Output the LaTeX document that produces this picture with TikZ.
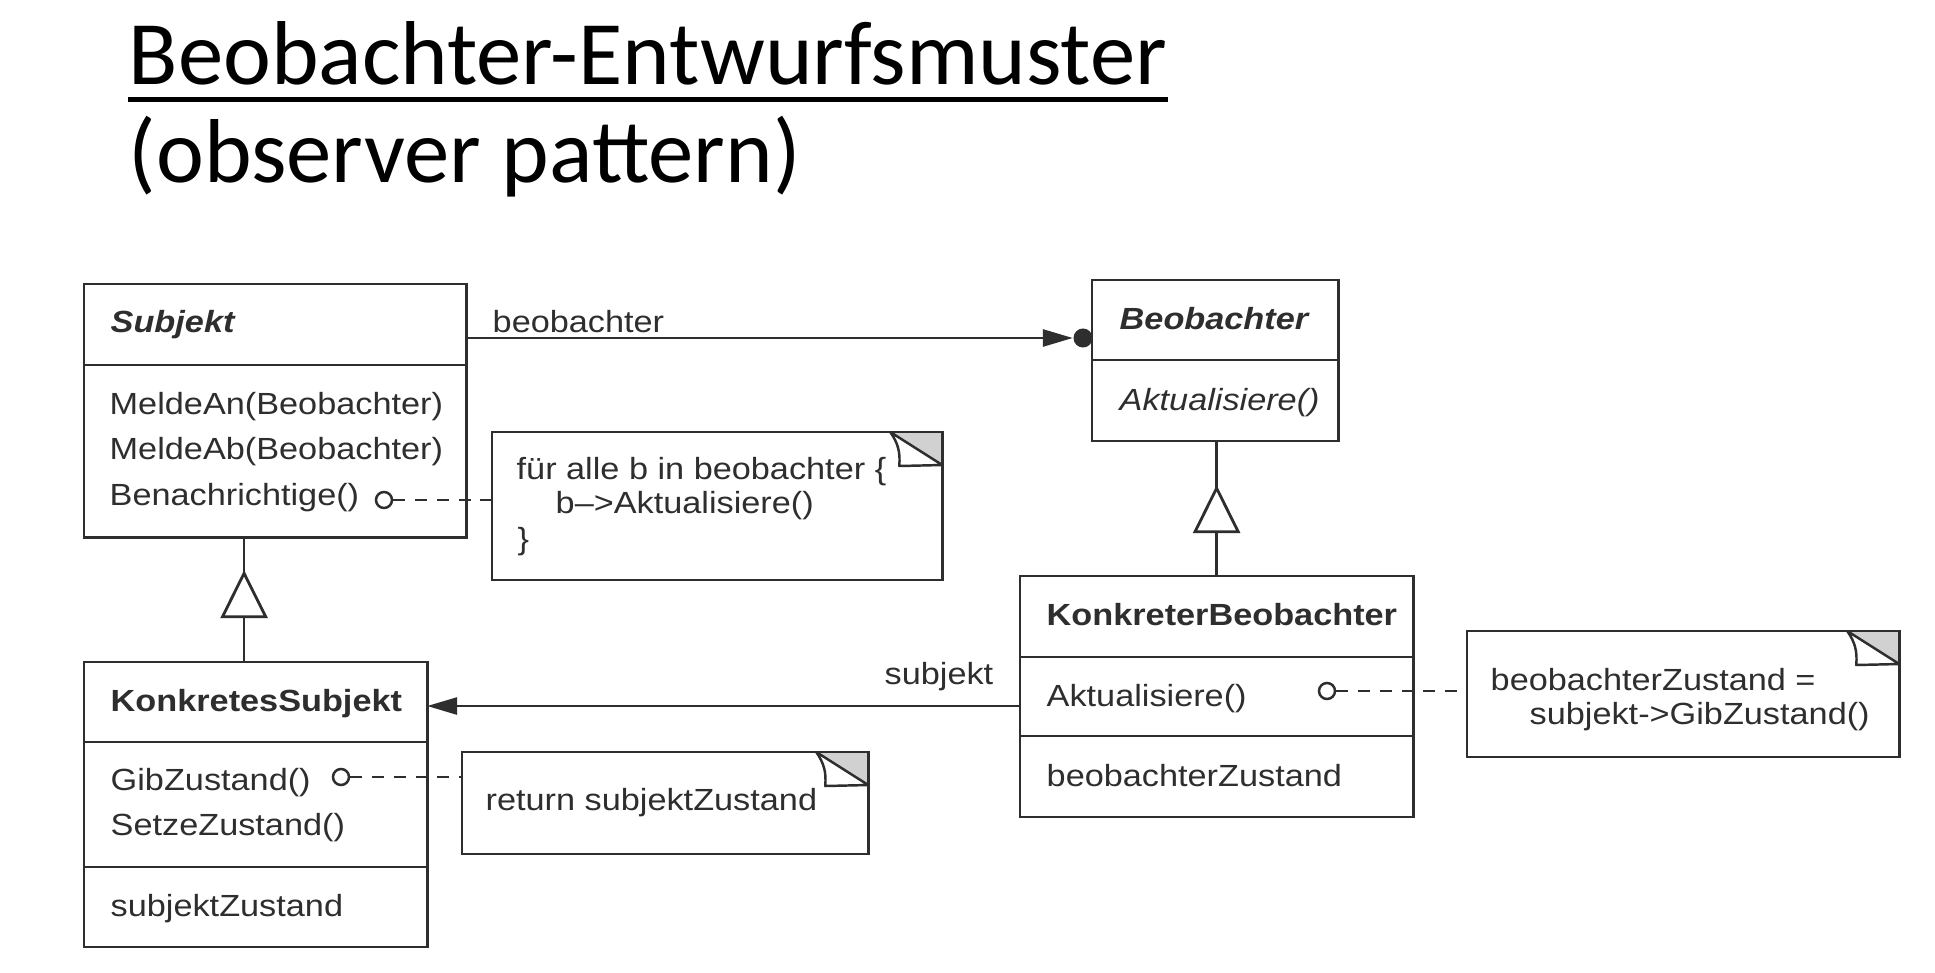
\documentclass[tikz,border=0pt]{standalone}
\usepackage{fontspec}
\setmainfont{Liberation Sans}
\newfontfamily\titlefont{Carlito}
\newfontfamily\umlfont[FakeStretch=1.12]{Liberation Sans}
\usetikzlibrary{arrows.meta, decorations.markings, positioning}
\definecolor{ink}{gray}{0.18}
\definecolor{earfill}{gray}{0.82}

\begin{document}
\begin{tikzpicture}[x=0.01cm, y=-0.01cm,
    box/.style={draw=ink, line width=0.8pt, anchor=north west, inner sep=0pt, outer sep=0pt, minimum width=#1},
    txt/.style={anchor=base west, inner sep=0pt, text=ink, font=\fontsize{8.7}{10}\umlfont},
    head/.style={anchor=base west, inner sep=0pt, font=\titlefont\fontsize{25.8}{30}\selectfont},
    knob/.style={circle, draw=ink, line width=0.7pt, minimum size=0.16cm, inner sep=0pt},
    ball/.style={circle, fill=ink, minimum size=0.19cm, inner sep=0pt},
    assoc/.style={draw=ink, line width=0.8pt, -{Triangle[length=0.3cm, width=0.17cm]}},
    dep/.style={draw=ink, line width=0.8pt, dash pattern=on 3.4pt off 2.8pt},
    inherit/.style={draw=ink, line width=0.8pt, postaction={decorate, decoration={markings,
      mark=at position #1 with {\arrow{Triangle[length=0.48cm, width=0.47cm, fill=white]}}}}}]

    \path[fill=white] (0,0) rectangle (1935,973);

    % title
    \node[head] (title) at (128,85) {Beobachter-Entwurfsmuster};
    \node[head] (subtitle) at (128,183) {(observer pattern)};
    \draw[line width=1.4pt] ([yshift=-0.145cm]title.base west) -- ([yshift=-0.145cm]title.base east);

    % Subjekt
    \node[box=3.82cm, minimum height=0.81cm] (subj-name) at (84,284) {};
    \node[box=3.82cm, minimum height=1.72cm] (subj-ops) at (84,365) {};
    \node[txt] (subj-t) at (110,333) {\textbf{\textit{Subjekt}}};
    \node[txt] (subj-o1) at (109,415) {MeldeAn(Beobachter)};
    \node[txt] (subj-o2) at (109,460) {MeldeAb(Beobachter)};
    \node[txt] (subj-o3) at (109,505) {Benachrichtige()};
    \node[knob] (subj-k) at (384,500) {};

    % Beobachter
    \node[box=2.46cm, minimum height=0.80cm] (beob-name) at (1092,280) {};
    \node[box=2.46cm, minimum height=0.81cm] (beob-ops) at (1092,360) {};
    \node[txt] (beob-t) at (1119,330) {\textbf{\textit{Beobachter}}};
    \node[txt] (beob-o1) at (1119,410) {\textit{Aktualisiere()}};

    % KonkretesSubjekt
    \node[box=3.43cm, minimum height=0.80cm] (ks-name) at (84,662) {};
    \node[box=3.43cm, minimum height=1.25cm] (ks-ops) at (84,742) {};
    \node[box=3.43cm, minimum height=0.80cm] (ks-attr) at (84,867) {};
    \node[txt] (ks-t) at (110,711) {\textbf{KonkretesSubjekt}};
    \node[txt] (ks-o1) at (110,790) {GibZustand()};
    \node[txt] (ks-o2) at (110,835) {SetzeZustand()};
    \node[txt] (ks-a1) at (110,916) {subjektZustand};
    \node[knob] (ks-k) at (341,777) {};

    % KonkreterBeobachter
    \node[box=3.93cm, minimum height=0.81cm] (kb-name) at (1020,576) {};
    \node[box=3.93cm, minimum height=0.79cm] (kb-ops) at (1020,657) {};
    \node[box=3.93cm, minimum height=0.81cm] (kb-attr) at (1020,736) {};
    \node[txt] (kb-t) at (1046,626) {\textbf{KonkreterBeobachter}};
    \node[txt] (kb-o1) at (1046,706) {Aktualisiere()};
    \node[txt] (kb-a1) at (1046,786) {beobachterZustand};
    \node[knob] (kb-k) at (1327,691) {};

    % notes with folded corner
    \node[box=4.50cm, minimum height=1.48cm] (note1) at (492,432) {};
    \node[box=4.06cm, minimum height=1.02cm] (note2) at (462,752) {};
    \node[box=4.32cm, minimum height=1.26cm] (note3) at (1467,631) {};
    \foreach \n in {note1, note2, note3} {
        \fill[earfill] ([xshift=-0.52cm]\n.north east) -- (\n.north east) -- ([yshift=-0.33cm]\n.north east) -- cycle;
        \draw[ink, line width=0.7pt, line join=round] ([xshift=-0.52cm]\n.north east) -- ([yshift=-0.33cm]\n.north east)
            -- ([xshift=-0.43cm, yshift=-0.34cm]\n.north east) to[bend right=20] ([xshift=-0.52cm]\n.north east);
        \draw[ink, line width=0.8pt] ([xshift=-0.52cm]\n.north east) -- (\n.north east) -- ([yshift=-0.33cm]\n.north east);
    }
    \node[txt] (note1-l1) at (516,480) {für alle b in beobachter \{};
    \node[txt] (note1-l2) at (555,514) {b–>Aktualisiere()};
    \node[txt] (note1-l3) at (517,549) {\}};
    \node[txt] (note2-l1) at (485,810) {return subjektZustand};
    \node[txt] (note3-l1) at (1490,690) {beobachterZustand =};
    \node[txt] (note3-l2) at (1529,725) {subjekt->GibZustand()};

    % associations
    \node[ball] (ball) at (1083,338) {};
    \draw[assoc] (ball -| subj-name.east) -- (ball.west);
    \node[txt] (lbl-beob) at (492,333) {beobachter};
    \coordinate (subj-end) at ([yshift=-0.095cm]kb-ops.west);
    \draw[assoc] (subj-end) -- (subj-end -| ks-name.east);
    \node[txt] (lbl-subj) at (884,685) {subjekt};

    % note links
    \draw[dep] (subj-k) -- (subj-k -| note1.west);
    \draw[dep] (ks-k) -- (ks-k -| note2.west);
    \draw[dep] (kb-k) -- (kb-k -| note3.west);

    % inheritance
    \draw[inherit=-0.33cm] ([xshift=-0.115cm]ks-name.north) coordinate (g1) -- (g1 |- subj-ops.south);
    \draw[inherit=-0.44cm] (kb-name.north) -- (kb-name.north |- beob-ops.south);
\end{tikzpicture}
\end{document}
